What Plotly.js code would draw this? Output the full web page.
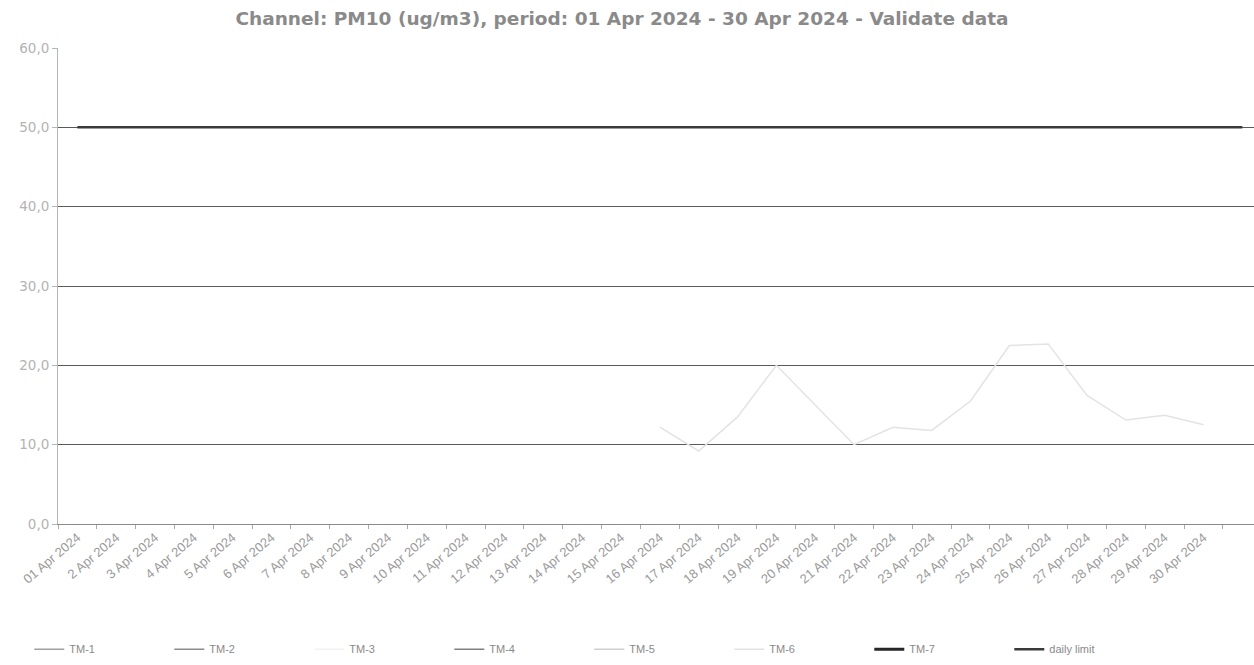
<!DOCTYPE html>
<html>
<head>
<meta charset="utf-8">
<script src="https://cdn.plot.ly/plotly-3.0.1.min.js"></script>
<style>html,body{margin:0;padding:0;background:#fff;}#chart{width:1254px;height:665px;}</style>
</head>
<body>
<div id="chart"></div>
<script>
const dates = ['01 Apr 2024','2 Apr 2024','3 Apr 2024','4 Apr 2024','5 Apr 2024','6 Apr 2024','7 Apr 2024','8 Apr 2024','9 Apr 2024','10 Apr 2024',
  '11 Apr 2024','12 Apr 2024','13 Apr 2024','14 Apr 2024','15 Apr 2024','16 Apr 2024','17 Apr 2024','18 Apr 2024','19 Apr 2024','20 Apr 2024',
  '21 Apr 2024','22 Apr 2024','23 Apr 2024','24 Apr 2024','25 Apr 2024','26 Apr 2024','27 Apr 2024','28 Apr 2024','29 Apr 2024','30 Apr 2024'];
const seriesNames = ['TM-1','TM-2','TM-3','TM-4','TM-5','TM-6','TM-7'];
const tm1 = [];
const tm2 = [];
const tm3 = [];
const tm4 = [];
const tm5 = [];
const tm6 = [null,null,null,null,null,null,null,null,null,null,null,null,null,null,null,
  12.2,9.2,13.5,20.0,15.0,10.0,12.2,11.8,15.5,22.5,22.7,16.2,13.1,13.7,12.5];
const tm7 = [];
const dailyLimit = 50;
const yTicks = [0,10,20,30,40,50,60];

const seriesData = [tm1,tm2,tm3,tm4,tm5,tm6,tm7];
const seriesColors = ['#a0a0a0','#8c8c8c','#f2f2f2','#808080','#cfcfcf','#e3e3e3','#262626'];
const seriesWidths = [1.5,1.5,1.5,1.5,1.5,1.5,3];

const idx = dates.map((d,i)=>i);
const traces = seriesNames.map((n,k)=>({
  type:'scatter', mode:'lines', name:n,
  x: idx.slice(0, Math.max(seriesData[k].length,1)),
  y: seriesData[k].length ? seriesData[k] : [null],
  line:{color:seriesColors[k], width:seriesWidths[k]},
  connectgaps:false, hoverinfo:'skip'
}));
const limitX = idx.concat([dates.length]);
traces.push({
  type:'scatter', mode:'lines', name:'daily limit',
  x: limitX, y: limitX.map(()=>dailyLimit),
  line:{color:'#3a3a3a', width:2.5}, hoverinfo:'skip'
});

const layout = {
  width:1254, height:665,
  margin:{l:58, r:0, t:48, b:141},
  paper_bgcolor:'#ffffff', plot_bgcolor:'#ffffff',
  separators:',.',
  showlegend:true,
  title:{text:'<b>Channel: PM10 (ug/m3), period: 01 Apr 2024 - 30 Apr 2024 - Validate data</b>',
    font:{family:'DejaVu Sans', size:18.5, color:'#8a8a8a'},
    xref:'container', x:0.496, xanchor:'center', yref:'container', y:0.972, yanchor:'middle'},
  xaxis:{
    range:[-0.5, 30.3], tickvals:idx, ticktext:dates, tickangle:-40,
    ticks:'', showgrid:false, zeroline:false,
    showline:true, linecolor:'#8a8a8a', linewidth:1,
    tickfont:{family:'Liberation Sans', size:13, color:'#9a9a9a'},
    minor:{tick0:-0.5, dtick:1, ticks:'outside', ticklen:4, tickcolor:'#aaaaaa', showgrid:false},
    fixedrange:true
  },
  yaxis:{
    range:[0,60], tickvals:yTicks, tickformat:'.1f',
    showgrid:true, gridcolor:'#5a5a5a', gridwidth:1,
    zeroline:false, showline:true, linecolor:'#b5b5b5', linewidth:1,
    ticks:'outside', ticklen:5, tickcolor:'#b5b5b5',
    tickfont:{family:'DejaVu Sans', size:13.5, color:'#b3b3b3'},
    fixedrange:true
  },
  legend:{
    orientation:'h', x:-0.024, xanchor:'left', y:-0.263, yanchor:'middle',
    font:{family:'Liberation Sans', size:11, color:'#8a8a8a'},
    entrywidth:95, entrywidthmode:'pixels', itemwidth:30,
    bgcolor:'rgba(0,0,0,0)', traceorder:'normal'
  }
};
Plotly.newPlot('chart', traces, layout, {staticPlot:true, displayModeBar:false});
</script>
</body>
</html>
